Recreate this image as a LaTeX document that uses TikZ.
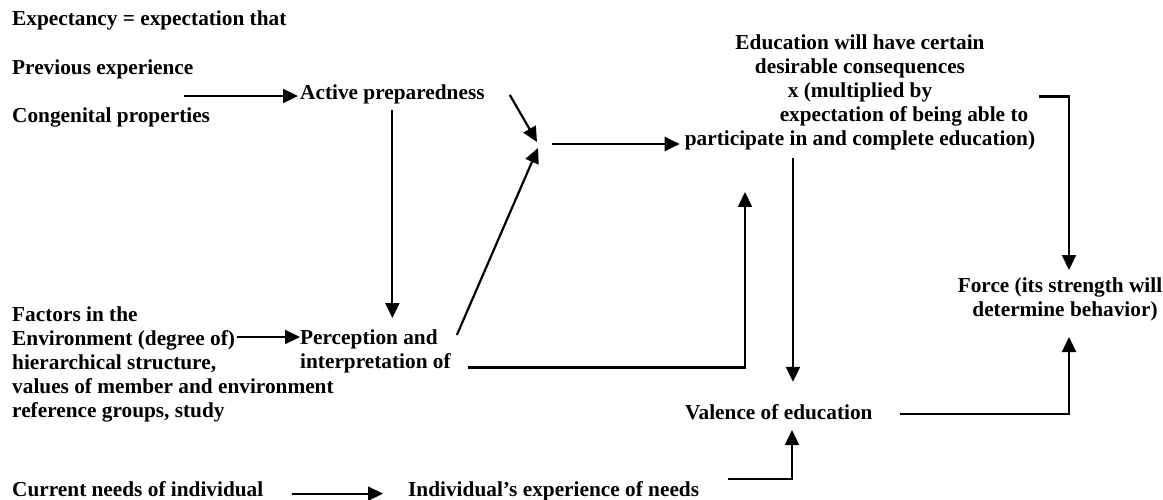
\documentclass[tikz,border=0pt]{standalone}
\usepackage{fontspec}
\setmainfont{Liberation Serif}
\usetikzlibrary{arrows.meta,calc}

\begin{document}
\begin{tikzpicture}[
    x=1pt, y=-1pt,
    txt/.style={inner sep=0pt, font=\fontsize{21.3}{23.8}\selectfont\bfseries},
    block/.style={txt, align=left},
    arrow/.style={-{Triangle[length=15pt,width=14pt]}, line width=2.2pt}
]
    \useasboundingbox (0,0) rectangle (1163,500);

    % Expectancy side
    \node[txt, anchor=base west] (expect) at (12,26) {Expectancy = expectation that};
    \node[txt, anchor=base west] (previous) at (12,75) {Previous experience};
    \node[txt, anchor=base west] (congenital) at (12,123) {Congenital properties};
    \node[txt, anchor=base west] (active) at (300,100) {Active preparedness};

    % Environment side
    \node[block, anchor=north west] (factors) at (12,307) {Factors in the\\Environment (degree of)\\hierarchical structure,\\values of member and environment\\reference groups, study};
    \node[block, anchor=north west] (percep) at (300,330) {Perception and\\interpretation of};

    % Needs
    \node[txt, anchor=base west] (current) at (12,496) {Current needs of individual};
    \node[txt, anchor=base west] (indiv) at (408,496) {Individual’s experience of needs};

    % Outcome
    \node[block, align=center, anchor=north] (edu) at (860,35) {Education will have certain\\desirable consequences\\x (multiplied by\\\hspace*{88pt}expectation of being able to\\participate in and complete education)};
    \node[txt, anchor=base west] (valence) at (685,419) {Valence of education};
    \node[block, align=center, anchor=north] (force) at (1060,278) {Force (its strength will\\\hspace*{10pt}determine behavior)};

    % Free ends
    \coordinate (pc-start) at (184,96);
    \coordinate (env-out) at (237,337);
    \coordinate (meet-a) at (537,142);
    \coordinate (meet-b) at (538,148);
    \coordinate (meet-out) at (552,144);
    \coordinate (edu-in) at (745,192);
    \coordinate (edu-down) at (793,0);
    \coordinate (valence-in) at (792,430);
    \coordinate (force-top) at (1069,270);
    \coordinate (force-bot) at (1069,337);

    % Arrows
    \draw[arrow, shorten >=2pt] (pc-start) -- (pc-start -| active.west);
    \draw[arrow, shorten <=5pt, shorten >=12pt] (active.south) -- (active.south |- percep.north);
    \draw[arrow] ([shift={(25,0)}]active.east) -- (meet-a);
    \draw[arrow] ([shift={(6,5)}]percep.north east) -- (meet-b);
    \draw[arrow, shorten >=5pt] (meet-out) -- (meet-out -| edu.west);
    \draw[arrow] (env-out) -- (env-out -| percep.west);
    \draw[arrow] ([shift={(17,-6)}]percep.south east) -| (edu-in);
    \draw[arrow, shorten <=8pt, shorten >=22pt] (edu.south -| edu-down) -- (valence.north -| edu-down);
    \draw[arrow] ([shift={(4,4)}]edu.east) -| (force-top);
    \draw[arrow] ([shift={(27,2)}]valence.east) -| (force-bot);
    \draw[arrow] ([shift={(29,-12)}]indiv.east) -| (valence-in);
    \draw[arrow] ([shift={(28,5)}]current.east) -- ($(current.east -| indiv.west)+(-25,5)$);

\end{tikzpicture}
\end{document}
